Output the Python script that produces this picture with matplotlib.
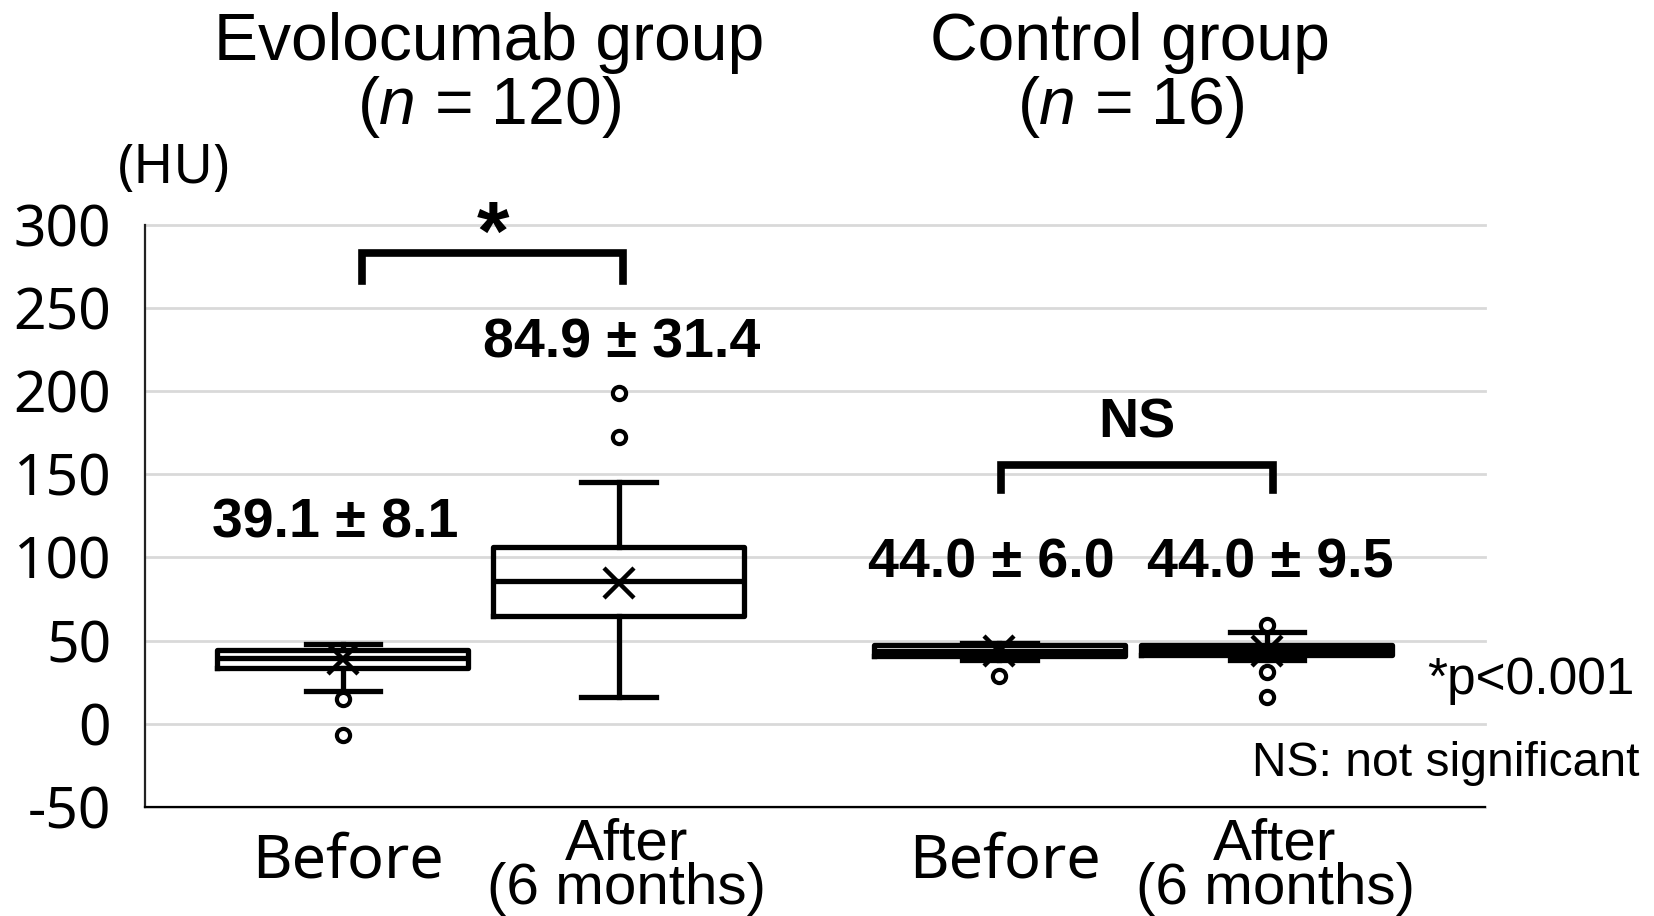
import numpy as np
import matplotlib.pyplot as plt

plt.rcParams['axes.unicode_minus'] = False
plt.rcParams['mathtext.fontset'] = 'custom'
plt.rcParams['mathtext.rm'] = 'Liberation Sans'
plt.rcParams['mathtext.it'] = 'Liberation Sans:italic'

# box statistics (HU)
box_names = ['Evolocumab before', 'Evolocumab after', 'Control before', 'Control after']
whis_low = [20.0, 16.0, 38.5, 38.5]
q1 = [33.8, 64.6, 41.0, 41.5]
medians = [39.3, 85.9, 44.0, 44.5]
q3 = [44.5, 106.0, 47.5, 47.5]
whis_high = [47.8, 145.2, 48.5, 55.2]
means = [39.1, 84.9, 44.0, 44.0]
sds = [8.1, 31.4, 6.0, 9.5]
outliers = [[14.8, -6.5], [172.6, 198.7], [29.0], [59.5, 31.0, 16.0]]

group_titles = ['Evolocumab group', 'Control group']
group_n = [120, 16]
tick_top = ['Before', 'After\n(6 months)', 'Before', 'After\n(6 months)']
sig_marks = ['*', 'NS']
yticks = [-50, 0, 50, 100, 150, 200, 250, 300]

# layout
positions = [1.0, 2.0, 3.38, 4.35]
box_w = 0.91

stats = []
for i in range(len(box_names)):
    stats.append(dict(label=box_names[i], whislo=whis_low[i], q1=q1[i], med=medians[i],
                      q3=q3[i], whishi=whis_high[i], mean=means[i], fliers=outliers[i]))

fig = plt.figure(figsize=(16.54, 9.16), dpi=100)
ax = fig.add_axes([0.0874, 0.119, 0.8104, 0.6356])

lw = 3.8
ax.bxp(stats, positions=positions, widths=box_w, showmeans=True, patch_artist=False,
       capwidths=0.27,
       boxprops=dict(color='black', linewidth=lw),
       medianprops=dict(color='black', linewidth=lw),
       whiskerprops=dict(color='black', linewidth=lw),
       capprops=dict(color='black', linewidth=lw),
       meanprops=dict(marker='x', markersize=21, markeredgewidth=3.2, markeredgecolor='black'),
       flierprops=dict(marker='o', markersize=9.5, markerfacecolor='white',
                       markeredgecolor='black', markeredgewidth=3),
       zorder=3)

ax.set_xlim(0.281, 5.141)
ax.set_ylim(-50, 300)
ax.set_yticks(yticks)
ax.set_yticklabels([str(v) for v in yticks], fontsize=41, family='Noto Sans')
ax.set_xticks([])
ax.tick_params(axis='y', length=0, pad=24)
ax.yaxis.grid(True, color='#d9d9d9', linewidth=2)
for gl in ax.get_ygridlines():
    gl.set_clip_on(False)
ax.set_axisbelow(True)
for s in ['top', 'right']:
    ax.spines[s].set_visible(False)
ax.spines['left'].set_color('#222222')
ax.spines['left'].set_linewidth(1.6)
ax.spines['bottom'].set_color('black')
ax.spines['bottom'].set_linewidth(1.6)

ax.text(0.388, 333.7, '(HU)', fontsize=39, family='Noto Sans', ha='center', va='center')

# x labels
for i, p in enumerate(positions):
    if tick_top[i] == 'Before':
        ax.text(p + 0.02, -83, tick_top[i], fontsize=44, family='Noto Sans', ha='center', va='center', clip_on=False)
    else:
        ax.text(p + 0.03, -86, tick_top[i], fontsize=42, family='Liberation Sans', ha='center', va='center',
                linespacing=0.78, clip_on=False)

# group titles
title_x = [1.53, 3.855]
for i in range(2):
    ax.text(title_x[i], 409, group_titles[i], fontsize=47.5, family='Liberation Sans', ha='center', va='center', clip_on=False)
    ax.text(title_x[i], 371, '($\\mathit{n}$ = %d)' % group_n[i], fontsize=47.5, family='Liberation Sans',
            ha='center', va='center', clip_on=False)

# mean +- SD labels
label_xy = [(0.972, 120.6), (2.01, 228.9), (3.35, 96.6), (4.364, 96.6)]
for i in range(4):
    ax.text(label_xy[i][0], label_xy[i][1], '%.1f \u00b1 %.1f' % (means[i], sds[i]), fontsize=40,
            family='Liberation Sans', weight='bold', ha='center', va='center')

# significance brackets
brackets = [(1.0685, 2.015, 283, 266), (3.386, 4.371, 155.7, 140.7)]
for (x0, x1, top, bot) in brackets:
    ax.plot([x0, x0, x1, x1], [bot, top, top, bot], color='black', linewidth=5.5,
            solid_joinstyle='miter', clip_on=False)
ax.text(1.545, 292, sig_marks[0], fontsize=60, family='Liberation Sans', weight='bold',
        ha='center', va='center', clip_on=False)
ax.text(3.879, 180.5, sig_marks[1], fontsize=40, family='Liberation Sans', weight='bold',
        ha='center', va='center')

fig.text(0.988, 0.2576, '*p<0.001', fontsize=37, family='Liberation Sans', ha='right', va='center')
fig.text(0.991, 0.167, 'NS: not significant', fontsize=34.6, family='Liberation Sans', ha='right', va='center')

fig.savefig('out.png', dpi=100)
